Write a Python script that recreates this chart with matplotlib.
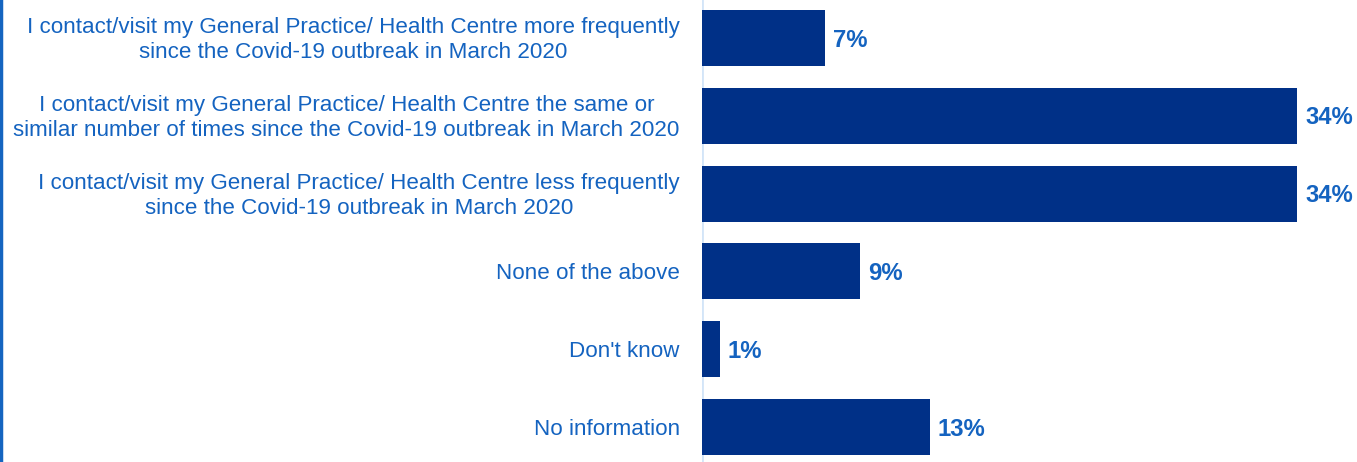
import matplotlib
matplotlib.use("Agg")
import matplotlib.pyplot as plt

categories = [
    "I contact/visit my General Practice/ Health Centre more frequently\nsince the Covid-19 outbreak in March 2020",
    "I contact/visit my General Practice/ Health Centre the same or\nsimilar number of times since the Covid-19 outbreak in March 2020",
    "I contact/visit my General Practice/ Health Centre less frequently\nsince the Covid-19 outbreak in March 2020",
    "None of the above",
    "Don't know",
    "No information",
]
values = [7, 34, 34, 9, 1, 13]
value_labels = ["7%", "34%", "34%", "9%", "1%", "13%"]

BAR = "#003087"
TEXT = "#1463c0"
plt.rcParams["font.family"] = ["Liberation Sans", "DejaVu Sans"]

W, H, DPI = 1357, 462, 100
fig = plt.figure(figsize=(W / DPI, H / DPI), dpi=DPI)
x0 = 702 / W
ax = fig.add_axes([x0, 0, 1 - x0, 1])

ypos = list(range(len(categories)))
ax.barh(ypos, values, height=0.72, color=BAR, zorder=2)
ax.set_xlim(0, (W - 702) / 17.5)
ax.set_ylim(5.45, -0.488)

for y, v, lab in zip(ypos, values, value_labels):
    ax.annotate(lab, (v, y), xytext=(6, -1.5), textcoords="offset points",
                ha="left", va="center", fontsize=17.2, fontweight="bold", color=TEXT)

for y, cat in zip(ypos, categories):
    ax.annotate(cat, (0, y), xytext=(-16, -1.5), textcoords="offset points",
                ha="right", va="center", ma="center", fontsize=16.1, color=TEXT,
                linespacing=1.25, annotation_clip=False)

for s in ax.spines.values():
    s.set_visible(False)
ax.axvline(0, color="#d3e5f8", lw=2, zorder=1)
ax.set_xticks([])
ax.set_yticks([])

# thin accent line on the left edge of the figure
fig.add_artist(plt.Line2D([1 / W, 1 / W], [0, 1], color="#1565c0", lw=2.5,
                          transform=fig.transFigure))

fig.savefig("out.png", dpi=DPI)
